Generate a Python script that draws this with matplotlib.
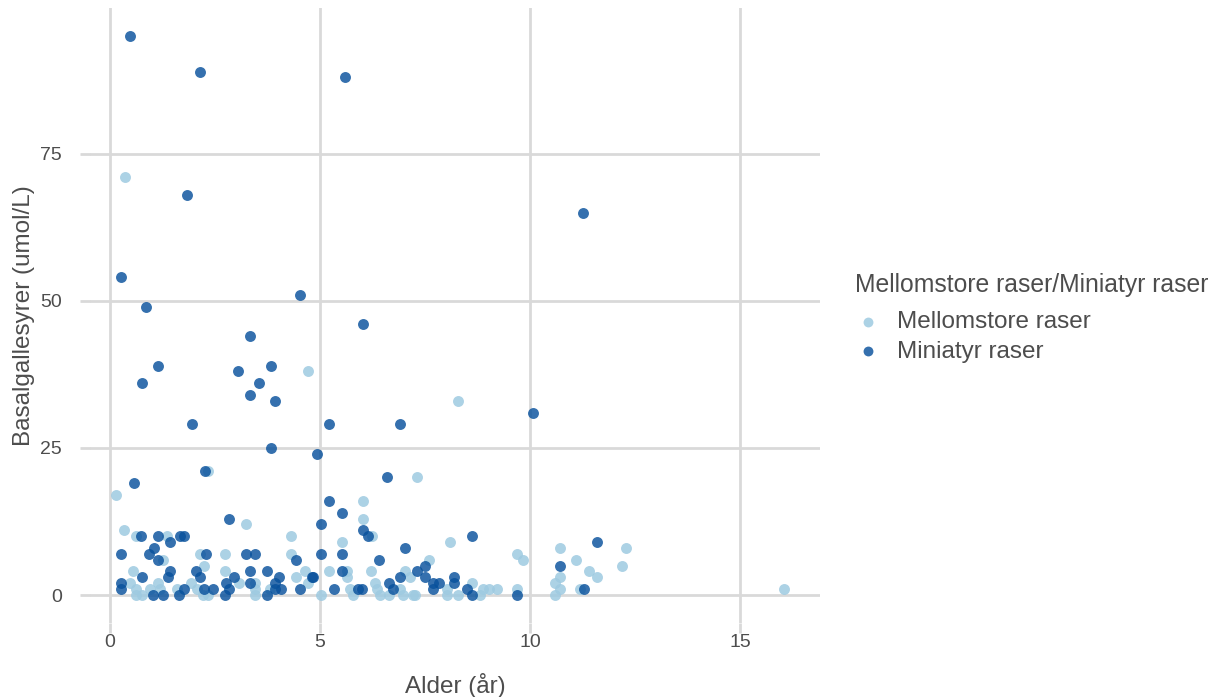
import matplotlib.pyplot as plt

plt.rcParams['font.family'] = ['Liberation Sans', 'DejaVu Sans']

# Mellomstore raser: alder (år) og basalgallesyrer (umol/L)
medium_age = [0.36, 4.72, 8.29, 7.31, 2.33, 0.14, 0.33, 0.62, 1.35, 1.27, 2.14, 0.54,
              2.24, 0.48, 1.15, 1.92, 0.63, 0.95, 1.19, 1.59, 2.06, 0.63, 0.75, 2.21,
              3.23, 4.31, 2.74, 4.31, 2.74, 4.63, 4.42, 3.06, 3.45, 4.72, 3.45, 3.81,
              2.34, 3.45,
              6.02, 6.02, 6.23, 5.52, 5.22, 5.63, 6.21, 7.02, 7.13, 5.63, 6.31, 5.71,
              6.35, 6.90, 5.02, 5.79, 6.43, 6.63, 6.98, 7.22,
              8.10, 9.68, 9.84, 7.60, 8.61, 8.02, 8.89, 9.02, 9.21, 9.68, 8.02, 8.29,
              8.81, 7.26,
              10.7, 12.29, 11.1, 12.18, 11.39, 11.59, 10.7, 10.6, 10.7, 11.19, 10.6, 16.05]
medium_bile = [71, 38, 33, 20, 21, 17, 11, 10, 10, 6, 7, 4,
               5, 2, 2, 2, 1, 1, 1, 1, 1, 0, 0, 0,
               12, 10, 7, 7, 4, 4, 3, 2, 2, 2, 1, 1,
               0, 0,
               16, 13, 10, 9, 4, 4, 4, 4, 3, 3, 2, 1,
               1, 1, 0, 0, 0, 0, 0, 0,
               9, 7, 6, 6, 2, 1, 1, 1, 1, 1, 0, 0,
               0, 0,
               8, 8, 6, 5, 4, 3, 3, 2, 1, 1, 0, 1]

# Miniatyr raser
mini_age = [0.48, 2.14, 5.60, 1.83, 11.26, 0.25, 0.85, 4.52, 6.02, 3.33, 1.15, 0.75,
            3.04, 3.83, 3.54, 3.33, 3.93, 1.94, 5.21, 6.90, 3.83, 4.92, 10.07, 2.25,
            0.56, 0.74, 1.15, 1.67, 1.76, 1.44, 1.05, 0.94, 0.25, 1.15, 2.29, 1.44,
            2.04, 0.75, 1.39, 2.14, 0.25, 0.25, 1.75, 2.24, 1.03, 1.25, 1.65,
            2.83, 3.23, 3.44, 4.42, 3.33, 3.73, 2.94, 4.02, 4.80, 2.76, 3.33, 3.93,
            2.44, 2.83, 3.93, 4.07, 4.53, 2.74, 3.73,
            6.60, 5.22, 5.52, 5.02, 6.02, 6.13, 7.02, 5.02, 5.52, 6.41, 5.52, 7.30,
            4.84, 6.90, 6.63, 5.32, 5.91, 5.99, 6.73,
            8.61, 7.50, 7.50, 8.20, 7.70, 7.82, 8.20, 8.49, 7.70, 8.61, 9.68,
            11.59, 10.7, 11.29]
mini_bile = [95, 89, 88, 68, 65, 54, 49, 51, 46, 44, 39, 36,
             38, 39, 36, 34, 33, 29, 29, 29, 25, 24, 31, 21,
             19, 10, 10, 10, 10, 9, 8, 7, 7, 6, 7, 4,
             4, 3, 3, 3, 2, 1, 1, 1, 0, 0, 0,
             13, 7, 7, 6, 4, 4, 3, 3, 3, 2, 2, 2,
             1, 1, 1, 1, 1, 0, 0,
             20, 16, 14, 12, 11, 10, 8, 7, 7, 6, 4, 4,
             3, 3, 2, 1, 1, 1, 1,
             10, 5, 3, 3, 2, 2, 2, 1, 1, 0, 0,
             9, 5, 1]

x_ticks = [0, 5, 10, 15]
y_ticks = [0, 25, 50, 75]

W, H = 1221, 697
fig = plt.figure(figsize=(W / 100, H / 100), dpi=100)
ax = fig.add_axes([90 / W, 1 - 623 / H, 730 / W, 615 / H])

grid_col = '#d9d9d9'
text_col = '#4d4d4d'

ax.scatter(medium_age, medium_bile, s=62, color='#9ecae1', alpha=0.85,
           linewidths=0, label='Mellomstore raser', zorder=3)
ax.scatter(mini_age, mini_bile, s=62, color='#08519c', alpha=0.82,
           linewidths=0, label='Miniatyr raser', zorder=3)

ax.set_xlim(-0.476, 16.9)
ax.set_ylim(-4.76, 99.8)
ax.set_xticks(x_ticks)
ax.set_yticks(y_ticks)
ax.grid(True, color=grid_col, linewidth=2, zorder=0)
for s in ax.spines.values():
    s.set_visible(False)
ax.tick_params(axis='both', colors=grid_col, length=7, width=2,
               labelcolor=text_col, labelsize=14)
ax.tick_params(axis='x', pad=1)
ax.tick_params(axis='y', pad=13)

ax.set_xlabel('Alder (år)', color=text_col, fontsize=17.5)
ax.set_ylabel('Basalgallesyrer (umol/L)', color=text_col, fontsize=17.5)
ax.xaxis.set_label_coords(0.5, -0.081)
ax.yaxis.set_label_coords(-0.075, 0.5)

# legend title drawn on its own so the gap to the entries can be set freely
fig.text(855 / W, 1 - 285 / H, 'Mellomstore raser/Miniatyr raser',
         color=text_col, fontsize=17.8, ha='left', va='center')
leg = ax.legend(loc='upper left',
                bbox_to_anchor=(856 / W, 1 - 311 / H), bbox_transform=fig.transFigure,
                frameon=False, fontsize=17.5, handlelength=1.0,
                handletextpad=0.7, labelspacing=0.32, markerscale=0.9,
                borderaxespad=0, borderpad=0)
for t in leg.get_texts():
    t.set_color(text_col)

fig.savefig('out.png', dpi=100)
